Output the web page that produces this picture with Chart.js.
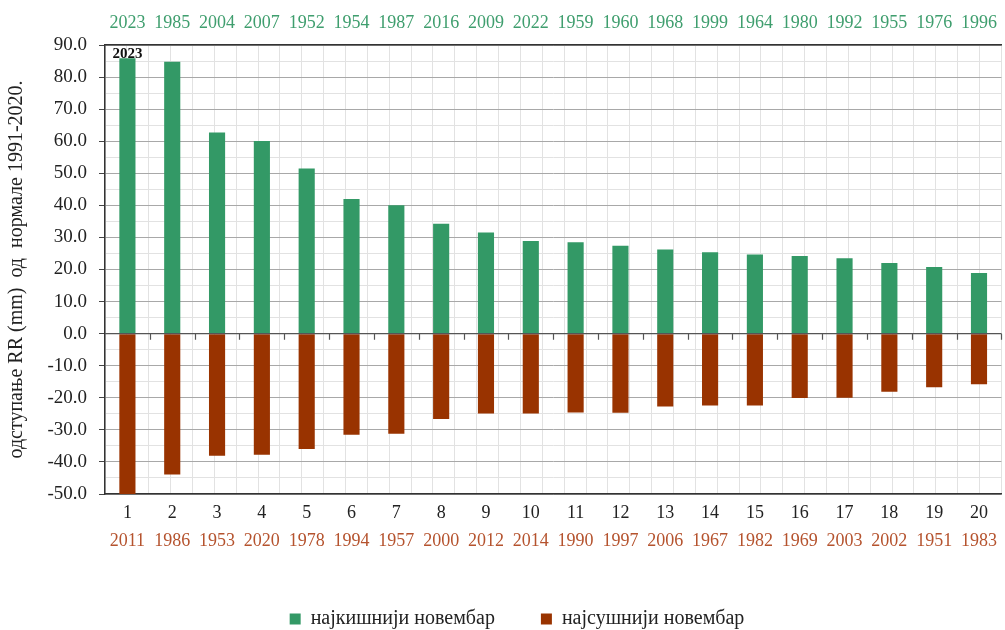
<!DOCTYPE html>
<html>
<head>
<meta charset="utf-8">
<script src="https://cdn.jsdelivr.net/npm/chart.js@4.4.1/dist/chart.umd.min.js"></script>
<style>
  html, body { margin: 0; padding: 0; background: #fff; overflow: hidden; }
  #wrap { width: 1008px; height: 630px; }
</style>
</head>
<body>
<div id="wrap"><canvas id="novChart" width="1008" height="630"></canvas></div>
<script>
// rank of the November (1 = most extreme)
const ranks = ["1", "2", "3", "4", "5", "6", "7", "8", "9", "10",
  "11", "12", "13", "14", "15", "16", "17", "18", "19", "20"];

// wettest Novembers (top labels) and their deviation from 1991-2020 normal, mm
const wetYears = ["2023", "1985", "2004", "2007", "1952", "1954", "1987", "2016", "2009", "2022",
  "1959", "1960", "1968", "1999", "1964", "1980", "1992", "1955", "1976", "1996"];
const wettest = [85.9, 84.8, 62.7, 60.1, 51.5, 42.0, 40.0, 34.3, 31.5, 28.9,
  28.5, 27.4, 26.2, 25.4, 24.7, 24.2, 23.5, 22.0, 20.8, 18.9];

// driest Novembers (bottom labels)
const dryYears = ["2011", "1986", "1953", "2020", "1978", "1994", "1957", "2000", "2012", "2014",
  "1990", "1997", "2006", "1967", "1982", "1969", "2003", "2002", "1951", "1983"];
const driest = [-50.0, -43.9, -38.1, -37.8, -36.0, -31.5, -31.2, -26.6, -24.9, -24.9,
  -24.6, -24.7, -22.7, -22.4, -22.4, -20.1, -20.0, -18.1, -16.7, -15.8];

const seriesNames = ["најкишнији новембар", "најсушнији новембар"];
const yTitle = "одступање RR (mm)  од  нормале 1991-2020.";
const highlightYear = "2023";

const serif = "'Liberation Serif', 'Times New Roman', serif";
const green = "#339966";
const brown = "#993300";

// zero line with small ticks between categories, plus the bold year over bar 1
const extras = {
  id: "extras",
  afterDatasetsDraw(chart) {
    const { ctx, chartArea, scales: { x, y } } = chart;
    const y0 = y.getPixelForValue(0);
    const half = (x.getPixelForValue(1) - x.getPixelForValue(0)) / 2;
    ctx.save();
    ctx.strokeStyle = "#555";
    ctx.lineWidth = 1.2;
    ctx.beginPath();
    ctx.moveTo(chartArea.left, y0);
    ctx.lineTo(chartArea.right, y0);
    for (let i = 0; i < ranks.length; i++) {
      const xb = Math.round(x.getPixelForValue(i) + half) + 0.5;
      ctx.moveTo(xb, y0);
      ctx.lineTo(xb, y0 + 6);
    }
    ctx.stroke();

    ctx.fillStyle = "#111";
    ctx.font = "bold 15px " + serif;
    ctx.textAlign = "center";
    ctx.textBaseline = "top";
    ctx.fillText(highlightYear, x.getPixelForValue(0), y.getPixelForValue(y.max) + 2);
    ctx.restore();
  }
};

new Chart(document.getElementById("novChart"), {
  type: "bar",
  data: {
    labels: ranks,
    datasets: [
      { label: seriesNames[0], data: wettest, backgroundColor: green, borderWidth: 0 },
      { label: seriesNames[1], data: driest, backgroundColor: brown, borderWidth: 0 }
    ]
  },
  options: {
    responsive: false,
    animation: false,
    layout: { padding: { left: 26, right: 0, top: 0, bottom: -9 } },
    datasets: { bar: { barPercentage: 0.36, categoryPercentage: 1 } },
    plugins: {
      tooltip: { enabled: false },
      legend: {
        position: "bottom",
        labels: {
          font: { family: serif, size: 20 },
          color: "#222",
          boxWidth: 11,
          boxHeight: 11,
          padding: 46
        }
      }
    },
    scales: {
      x: {
        stacked: true,
        position: "bottom",
        weight: 1,
        grid: { display: false, drawTicks: false },
        border: { display: true, color: "#333", width: 1.5 },
        ticks: {
          font: { family: serif, size: 18 }, color: "#222",
          padding: 8, autoSkip: false, maxRotation: 0
        },
        afterFit(scale) { scale.height = 28; }
      },
      xDry: {
        type: "category",
        labels: dryYears,
        position: "bottom",
        weight: 2,
        grid: { display: false, drawTicks: false },
        border: { display: false },
        ticks: {
          font: { family: serif, size: 18 }, color: "#b5532e",
          padding: 8, autoSkip: false, maxRotation: 0
        },
        afterFit(scale) { scale.height = 41; }
      },
      xTop: {
        type: "category",
        labels: wetYears,
        position: "top",
        grid: { display: false, drawTicks: false },
        border: { display: true, color: "#333", width: 1.5 },
        ticks: {
          font: { family: serif, size: 18 }, color: "#3f9e6e",
          padding: 11, autoSkip: false, maxRotation: 0
        },
        afterFit(scale) { scale.height = 45; }
      },
      xGrid: {
        type: "linear",
        position: "bottom",
        weight: 0,
        min: -0.5,
        max: ranks.length - 0.5,
        grid: { color: "#e2e2e2", drawTicks: false },
        border: { display: false },
        ticks: { display: false, stepSize: 0.5 },
        afterFit(scale) { scale.height = 0; }
      },
      y: {
        stacked: true,
        min: -50,
        max: 90,
        border: { display: true, color: "#333", width: 1.5 },
        grid: {
          color: (c) => (c.tick.value % 10 === 0 ? "#a8a8a8" : "#e2e2e2"),
          tickColor: (c) => (c.tick.value % 10 === 0 ? "#444" : "rgba(0,0,0,0)"),
          tickLength: 6
        },
        ticks: {
          stepSize: 5,
          autoSkip: false,
          padding: 12,
          font: { family: serif, size: 19 },
          color: "#222",
          callback: (v) => (v % 10 === 0 ? v.toFixed(1) : "")
        },
        title: {
          display: true,
          text: yTitle,
          font: { family: serif, size: 20 },
          color: "#222",
          padding: { top: -21, bottom: 0 }
        },
        afterFit(scale) { scale.width = 79; }
      }
    }
  },
  plugins: [extras]
});
</script>
</body>
</html>
